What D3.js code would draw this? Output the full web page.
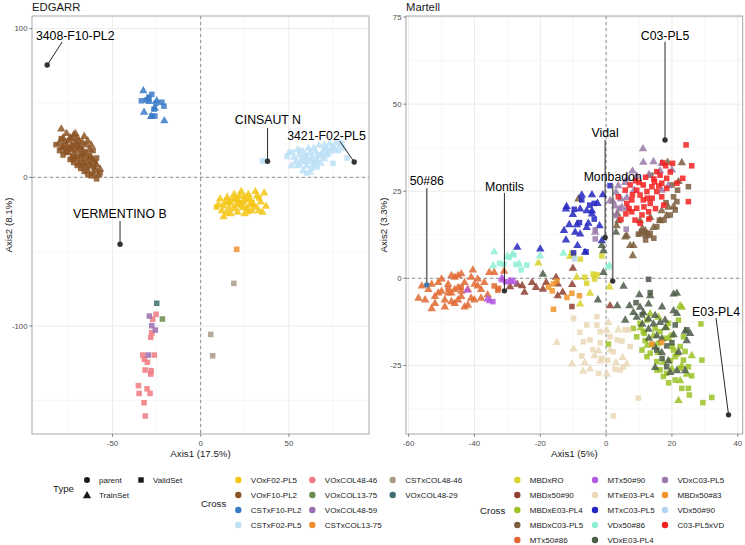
<!DOCTYPE html>
<html><head><meta charset="utf-8">
<script src="https://cdn.jsdelivr.net/npm/d3@7"></script>
<style>body{margin:0;background:#fff} text{font-family:"Liberation Sans",Arial,sans-serif}</style>
</head><body><svg id="c" width="745" height="545"></svg>
<script>
// ---------------- LEFT PANEL DATA (EDGARR) ----------------
const leftCrosses = ["VOxF02-PL5","VOxF10-PL2","CSTxF10-PL2","CSTxF02-PL5","VOxCOL48-46","VOxCOL13-75","VOxCOL48-59","CSTxCOL13-75","CSTxCOL48-46","VOxCOL48-29"];
const leftColors  = ["#F5C514","#8C5424","#3A7BC8","#BDE0F6","#F07A80","#6A8C4C","#9B6FAE","#F09030","#A99A86","#3E6E70"];

const L_VOxF02PL5_T = [[10,-18],[12,-22],[14,-16],[16,-20],[18,-14],[20,-18],[22,-12],[24,-16],[26,-20],[28,-14],[30,-18],[32,-12],[34,-16],[36,-10],[37,-19],[13,-26],[17,-24],[21,-23],[25,-24],[29,-22],[33,-22],[15,-13],[19,-11],[23,-9],[27,-11],[31,-9],[11,-14],[35,-23],[20,-14],[24,-20],[28,-18],[16,-16]];
const L_VOxF02PL5_S = [[9,-20],[13,-19],[17,-17],[21,-15],[25,-13],[29,-17],[33,-14],[19,-21],[23,-19],[27,-23],[31,-20],[15,-24],[22,-17],[26,-15]];
const L_VOxF10PL2_T = [[-79,33],[-76,30],[-72,29],[-70,27],[-66,28],[-64,25],[-62,22],[-78,27],[-75,25],[-73,22],[-71,24],[-69,21],[-67,19],[-65,17],[-63,15],[-61,12],[-59,9],[-57,6],[-60,5],[-62,8],[-64,11],[-66,13],[-68,15],[-70,18],[-72,16],[-74,20],[-76,22],[-80,24],[-77,18],[-73,14],[-69,10],[-65,7],[-61,3],[-58,2],[-63,19],[-67,24],[-71,30],[-74,27],[-78,21],[-68,12],[-66,10],[-64,5],[-75,17],[-71,13],[-67,16],[-63,9],[-69,25],[-73,19],[-62,14],[-60,7]];
const L_VOxF10PL2_S = [[-82,22],[-80,18],[-78,15],[-76,17],[-74,12],[-72,10],[-70,8],[-68,6],[-66,4],[-62,1],[-59,-1],[-57,3],[-60,10],[-63,13],[-70,14],[-75,20],[-79,26],[-68,20],[-65,22],[-61,18],[-59,13],[-71,20],[-73,26],[-77,24],[-67,8],[-64,2],[-72,12],[-66,16],[-79,20],[-70,22]];
const L_CSTxF10PL2_T = [[-32.5,58.7],[-32.1,44.2],[-20.6,38.5],[-30,53.5],[-24.9,52],[-28.1,41.4],[-29.1,51.5],[-26,47]];
const L_CSTxF10PL2_S = [[-27.7,55.8],[-30.6,52],[-25.3,49.8],[-20.8,47.9],[-26.4,45.9],[-27.6,41.2],[-26,41.2],[-29.3,53.8],[-33.6,51.5],[-22,50.5]];
const L_CSTxF02PL5_T = [[50,17],[53,14],[55,19],[57,12],[59,16],[61,20],[63,14],[65,18],[67,22],[69,17],[71,20],[73,23],[75,21],[77,24],[79,22],[81,20],[58,5],[60,8],[62,4],[64,9],[66,12],[68,10],[70,13],[56,9],[54,11],[72,16],[74,18],[76,19],[62,17],[66,15],[51.5,8.3],[59,11],[64,20],[70,22],[68,15],[60,14]];
const L_CSTxF02PL5_S = [[49,14],[52,17],[55,8],[58,13],[61,11],[63,6],[65,10],[67,15],[70,19],[73,18],[78,18],[80,23],[83,13],[57,18],[60,3],[35,11],[37,11],[75,9.4],[56,15],[63,11],[71,15],[66,7]];
const L_VOxCOL48_46_S = [[-25.3,-92.1],[-27.2,-95.5],[-27.7,-104.5],[-28.3,-107.6],[-32.8,-119.5],[-26.3,-119.5],[-31.9,-122.4],[-30.2,-124.4],[-31.5,-129.6],[-28.1,-130],[-28.3,-132.3],[-35.3,-140.1],[-34.9,-145.3],[-30.4,-142.2],[-28.7,-145.3],[-32.1,-151.6],[-31.4,-160.5]];
const L_VOxCOL13_75_S = [[-21.7,-95.3]];
const L_VOxCOL48_59_S = [[-29.1,-93.3],[-27.7,-99.8],[-25.7,-102.7],[-29.7,-119.5]];
const L_CSTxCOL13_75_S = [[20.4,-48.4]];
const L_CSTxCOL48_46_S = [[18.8,-71.3],[5.7,-105.6],[6.8,-120]];
const L_VOxCOL48_29_S = [[-24.9,-84.7]];

const leftTri = [L_VOxF02PL5_T,L_VOxF10PL2_T,L_CSTxF10PL2_T,L_CSTxF02PL5_T,[],[],[],[],[],[]];
const leftSq  = [L_VOxF02PL5_S,L_VOxF10PL2_S,L_CSTxF10PL2_S,L_CSTxF02PL5_S,L_VOxCOL48_46_S,L_VOxCOL13_75_S,L_VOxCOL48_59_S,L_CSTxCOL13_75_S,L_CSTxCOL48_46_S,L_VOxCOL48_29_S];

const leftParents = [
  {name:"3408-F10-PL2", x:-87, y:75.5, lx:-71.1, ly:95, sx:-78.5, sy:91},
  {name:"CINSAUT N", x:37.9, y:10.8, lx:38.1, ly:38.5, sx:37.9, sy:33.2},
  {name:"3421-F02-PL5", x:87, y:10.3, lx:71.3, ly:27.8, sx:78.8, sy:24.4},
  {name:"VERMENTINO B", x:-45.7, y:-45, lx:-45.8, ly:-24.9, sx:-45.7, sy:-29.4}
];
const leftXTicks = [-50,0,50];
const leftYTicks = [-100,0,100];

// ---------------- RIGHT PANEL DATA (Martell) ----------------
const rightCrosses = ["MBDxRO","MBDx50#90","MBDxE03-PL4","MBDxC03-PL5","MTx50#86","MTx50#90","MTxE03-PL4","MTxC03-PL5","VDx50#86","VDxE03-PL4","VDxC03-PL5","MBDx50#83","VDx50#90","C03-PL5xVD"];
const rightColors  = ["#D8D42C","#8E4030","#9AC224","#7B5E3C","#E06830","#B45AE0","#EAD8B6","#2424C0","#90F0D6","#4C5C48","#9A7AAA","#F09428","#B4D4F2","#F42020"];

const R_MBDxRO_T = [[-20.6,4.6],[-8.9,0.5],[-4.9,-4.1],[-7.9,-7.2],[1,-2.3],[-11,6.5]];
const R_MBDxRO_S = [[-10.4,7.2],[-9.9,6.9],[-1.3,6.4],[-3.9,1.2],[-2.8,1],[-5.9,-1.4],[-6.5,0.3],[-7.8,5.5],[-3.5,-0.2]];
const R_MBDx50_90_T = [[-29.2,-2.2],[-25.5,-1.9],[-24.8,-3.8],[-21.3,-2.4],[-19.2,-2.9],[-18.2,-1],[-15.2,0.5],[-14.7,-1.4],[-13.2,-3.8],[-14.7,-4.8],[-10.3,-1.6],[-10.1,3.1],[-27,-1.5],[-22.5,-1],[1.2,-7.7]];
const R_MBDx50_90_S = [[-10.4,-8.1]];
const R_MBDxE03PL4_T = [[22.5,-7.7],[23,-8.1],[13.4,-10],[15.9,-11],[18.4,-13.9],[14.4,-16.3],[21.5,-21.5],[23,-24.9],[20,-25.8],[22.5,-29.2],[22,-34.9],[15.9,-21.1],[17.4,-23.9],[24.5,-27.3],[10.5,-14],[12.5,-19],[19,-17],[26,-22]];
const R_MBDxE03PL4_S = [[12.4,-12],[10.3,-12.9],[8.3,-14.4],[11.3,-15.3],[11.9,-17.9],[9.3,-16.8],[10.9,-20.6],[13.4,-21.5],[15.4,-23.9],[16.4,-26.3],[18.4,-27.3],[17.4,-28.2],[21,-29.2],[23,-31.6],[25,-31.6],[25.3,-33.5],[29.1,-23.5],[28.8,-13.1],[32.1,-34.2],[29.4,-35.7],[20,-19.6],[22.5,-19.6],[23.5,-23.5],[25,-25.4],[26,-28],[22.5,-25.8],[19.5,-23.6],[21,-22.5],[15.9,-18.7],[17.9,-17.2],[20,-16.3],[16.4,-15.3],[14.9,-14.4],[18.9,-12.9],[22,-12],[23.5,-16.8],[12.4,-22.5],[15.4,-26.3],[20.5,-20.6],[11.6,-15.8],[0.7,-18.9],[24,-21],[19,-30],[14,-19]];
const R_MBDxC03PL5_T = [[23,33.4],[18.7,33.5],[3.7,16.7],[6.3,12.4],[8.3,9.6],[8.1,6.7],[10.3,12.9],[11.9,13.9],[12.9,12.4],[14.4,14.8],[16.4,16.7],[18.4,18.2],[20.5,20.8],[16.9,19.6],[18.9,20.6],[10.3,16.7],[13.4,17.7],[7.3,9.6],[5.8,12.1],[3.4,18.7],[3.2,15.3],[22,28],[11,14.5],[-8.4,23]];
const R_MBDxC03PL5_S = [[13.6,29.6],[25,26.3],[21,19.6],[19.5,18.2],[17.6,16.7],[15.4,14.8],[11.9,12.4],[10.9,13.4],[9.8,12.7],[12.4,12.9],[20.5,23.4],[21.5,22],[18.2,21.7],[21.7,25.3],[20,26.8],[16.2,16.7],[13.4,12.9],[14.5,11.5],[12,11]];
const R_MTx50_86_T = [[-57,-5.5],[-55,-6],[-54,-3],[-52,-5],[-51,-1],[-50,-3.5],[-49,-6],[-48,-1.5],[-47,-4],[-46,0.5],[-45,-2.5],[-44,-5],[-43,-1],[-42,-3],[-41,-5.5],[-40,-1.5],[-39,0],[-38,-3],[-37,-1],[-36,-4.5],[-53,-1.5],[-52,-7],[-50,0],[-49,-8],[-47,1],[-46,-7],[-45,-6],[-44,1.5],[-42,-7.5],[-43,-8],[-40,-6],[-56,-2],[-48,-4],[-46,-3],[-44,-3.5],[-41,0.5],[-39,-2],[-38,-5.5],[-35.5,1.9],[-34,1.9],[-31,2.2],[-40.5,2.6],[-45,1],[-51,-4],[-53,-8.5],[-47,-6.5]];
const R_MTx50_86_S = [[-34,-2.2],[-32.9,-3.4],[-32.7,-2.9],[-48,-3],[-44,-2.5]];
const R_MTx50_90_T = [[-31.4,-0.3],[-29.2,-0.7],[-28,-0.8],[-36,-5.7],[-42.2,-3.2],[-35.3,-6.2],[-31.7,0.2]];
const R_MTx50_90_S = [[-34.4,-6.7],[-28.8,-0.6],[-30.5,-1]];
const R_MTxE03PL4_T = [[-15,-18.2],[-9.9,-20.1],[-10.4,-24.4],[-1.8,-23.5],[-4.9,-25.8],[0.2,-14.8],[0.7,-12.5],[3.7,-14.6],[1.2,-20.4],[6.3,-24.4],[0.2,-27.3],[-2.3,-20.6],[-6.5,-24],[3,-24],[5,-22.5],[-3.5,-22],[-7,-26.5]];
const R_MTxE03PL4_S = [[-9.9,-11.5],[-5.9,-13.4],[-2.8,-13.4],[-1.8,-15.3],[-6.9,-18.2],[-4.9,-17.7],[-7.4,-22.3],[-2.3,-27.3],[3.3,-17.7],[4.8,-18],[5.8,-14.8],[6.8,-14.8],[7.3,-19.6],[2.2,-21.1],[4.3,-26.3],[5.3,-25.4],[2.7,-26.1],[-1.3,-23],[9.8,-34.4],[2.2,-39.5],[-1.8,-18.5],[-2.8,-11],[1.2,-16.8],[-4,-20.5],[-8,-15.5],[0.5,-23.5]];
const R_MTxC03PL5_T = [[-12.2,20.1],[-7.9,20.1],[-5.9,19.6],[-4.3,19.6],[-2.6,21.7],[-1,24.2],[-4.3,24.2],[-7.4,24.1],[-10.1,18.5],[-8.9,15.6],[-11.2,15.6],[-12.8,13.9],[-9.4,13.4],[-8.7,9.6],[-12.2,11.2],[-5.9,14.8],[-2,15.3],[-1.3,11],[-12,20.8],[-4.3,18.7],[-5.4,16],[-7.9,12.9],[-20,8.6],[-6.4,7.7],[-27,9.1]];
const R_MTxC03PL5_S = [[-9.7,19.8],[-7.4,22.5],[-3.6,21.5],[1.2,26.6],[-8.1,16],[-9.9,7.3],[-6.1,7.6],[-5,21],[-3.6,17]];
const R_VDx50_86_T = [[-34,7.8],[-34.3,3.8],[-28.4,7.2],[-20.1,6.7],[-13,7.4],[-26.4,4.3],[1,3.8],[-30,6.5]];
const R_VDx50_86_S = [[-32.4,4.3],[-31.1,4],[-28.1,6.7],[-27.4,4],[-25.8,2.4],[-24.1,3.8],[0.7,3.3],[-29.5,6]];
const R_VDxE03PL4_T = [[5.3,-2.1],[10.1,-4.5],[13.4,-4.8],[12.9,-7.2],[7.1,-7.7],[10.3,-8.1],[5.8,-11.8],[8.3,-9.6],[9.3,-11],[11.3,-9.6],[12.9,-11.5],[14.9,-10.5],[14.4,-12.9],[16.4,-12.5],[17.9,-11.8],[20.5,-4.3],[21.5,-4.1],[20.5,-9.1],[21.5,-9.9],[12.9,-14.4],[15.4,-16.3],[16.9,-17.2],[20.5,-16],[24,-15],[25.5,-15.6],[24.5,-17.7],[14.9,-19.6],[16.9,-21.1],[18.9,-23.5],[14.9,-25.4],[21.5,-26.3],[24,-26.3],[19.5,-26.8],[3.4,-7.7],[-0.8,1.9],[-2.5,-6],[-1.3,9.6],[3,13.4],[-19.2,1.4],[-0.8,8.1],[11,-13],[13,-17],[18,-14],[22,-21],[17,-8]];
const R_VDxE03PL4_S = [[12.9,-0.3],[9.1,-7],[13.4,-4.1],[21,-13.4],[24.5,-14.8],[18.4,-25.4],[15.4,-20.6],[18.4,-19.4],[11,-10.5],[17,-23],[20,-18.5]];
const R_VDxC03PL5_T = [[11.2,37.4],[11.3,33.5],[14.4,33.7],[16.9,33.2],[20,31.3],[16.4,31.1],[9.3,29.6],[6.3,28.7],[3.7,26.8],[3,24.9],[1.2,22.5],[2.7,21],[4.8,20.6],[6.3,20.3],[4,20.1],[6.3,23.4],[8.5,25.5],[18.9,26.8],[16.9,25.5],[4.5,23],[5.8,27.7],[2,22.3],[-3.3,13.4],[13,30],[8,31]];
const R_VDxC03PL5_S = [[-3.3,11.3],[-3.3,13.9],[6.1,14.1],[3,18]];
const R_MBDx50_83_S = [[-16,-1.6],[-15,-0.8],[-16.4,-3.6],[-11.9,-5.5],[-10.4,-4.3],[-8.1,-5],[-16,-8.9],[13.9,-18.9],[16.9,-18.4],[-17.5,-2.5]];
const R_VDx50_90_S = [[-9.6,5.6]];
const R_C03PL5xVD_S = [[24.3,38.3],[26,32.3],[23.3,28.7],[25,22],[20.2,33],[18.1,32.3],[17.2,33.2],[15.4,30.6],[16.4,29.6],[18.4,28.7],[14.7,27.7],[11.3,26.8],[9.3,25.3],[7.3,26.8],[5.8,25.3],[10.3,23.9],[12.4,24.9],[13.9,26.3],[15.4,24.9],[16.9,27.3],[11.3,22.5],[13.4,21.5],[9.3,20.1],[7.8,22.5],[3.7,23.4],[6.3,21.5],[10.9,18.2],[12.9,19.1],[8.8,16.7],[10.3,15.8],[16.9,23.4],[18.4,25.8],[7.8,19.1],[21.5,27.3],[4.5,16.9],[12,29],[14,23],[9,28],[11.5,20.5],[15,20],[6,18.5],[19.5,30.5],[13,17],[8,24],[17.5,21],[10,27.5],[12.5,23],[14.5,28.5],[7,20],[16,26.5]];

const rightTri = [R_MBDxRO_T,R_MBDx50_90_T,R_MBDxE03PL4_T,R_MBDxC03PL5_T,R_MTx50_86_T,R_MTx50_90_T,R_MTxE03PL4_T,R_MTxC03PL5_T,R_VDx50_86_T,R_VDxE03PL4_T,R_VDxC03PL5_T,[],[],[]];
const rightSq  = [R_MBDxRO_S,R_MBDx50_90_S,R_MBDxE03PL4_S,R_MBDxC03PL5_S,R_MTx50_86_S,R_MTx50_90_S,R_MTxE03PL4_S,R_MTxC03PL5_S,R_VDx50_86_S,R_VDxE03PL4_S,R_VDxC03PL5_S,R_MBDx50_83_S,R_VDx50_90_S,R_C03PL5xVD_S];

const rightParents = [
  {name:"C03-PL5", x:17.9, y:39.7, lx:17.9, ly:69.6, sx:17.9, sy:67.9},
  {name:"Vidal", x:-0.3, y:11.7, lx:-0.3, ly:41.6, sx:-0.3, sy:39.7},
  {name:"Monbadon", x:2, y:-0.8, lx:2, ly:29.2, sx:2, sy:27.1, grey:true},
  {name:"Montils", x:-30.9, y:-3.6, lx:-30.9, ly:26.3, sx:-30.9, sy:24.5},
  {name:"50#86", x:-54.5, y:-1.9, lx:-54.5, ly:27.9, sx:-54.5, sy:25.9, grey:true, blue:true},
  {name:"E03-PL4", x:37.2, y:-39.2, lx:33.4, ly:-9.6, sx:33.4, sy:-11.4}
];
const rightXTicks = [-60,-40,-20,0,20,40];
const rightYTicks = [-25,0,25,50,75];

const typeLabels = ["parent","TrainSet","ValidSet"];

// ---------------- DRAWING ----------------
const svg = d3.select("#c");
const TXT = "#1A1A1A", TICK = "#4D4D4D";

function panel(opt){
  const {x0,x1,y0,y1,xd,yd,xt,yt,xminor,yminor,title,xlab,ylab,ylabX,crosses,colors,tri,sq,parents} = opt;
  const x = d3.scaleLinear().domain(xd).range([x0,x1]);
  const y = d3.scaleLinear().domain(yd).range([y1,y0]);
  const g = svg.append("g");
  g.append("rect").attr("x",x0).attr("y",y0).attr("width",x1-x0).attr("height",y1-y0).attr("fill","#fff");
  g.selectAll(null).data(xminor).join("line").attr("x1",d=>x(d)).attr("x2",d=>x(d)).attr("y1",y0).attr("y2",y1).attr("stroke","#F2F2F2").attr("stroke-width",0.6);
  g.selectAll(null).data(yminor).join("line").attr("y1",d=>y(d)).attr("y2",d=>y(d)).attr("x1",x0).attr("x2",x1).attr("stroke","#F2F2F2").attr("stroke-width",0.6);
  g.selectAll(null).data(xt).join("line").attr("x1",d=>x(d)).attr("x2",d=>x(d)).attr("y1",y0).attr("y2",y1).attr("stroke","#EBEBEB").attr("stroke-width",1);
  g.selectAll(null).data(yt).join("line").attr("y1",d=>y(d)).attr("y2",d=>y(d)).attr("x1",x0).attr("x2",x1).attr("stroke","#EBEBEB").attr("stroke-width",1);
  g.append("line").attr("x1",x(0)).attr("x2",x(0)).attr("y1",y0).attr("y2",y1).attr("stroke","#666").attr("stroke-width",0.7).attr("stroke-dasharray","3,3");
  g.append("line").attr("y1",y(0)).attr("y2",y(0)).attr("x1",x0).attr("x2",x1).attr("stroke","#666").attr("stroke-width",0.7).attr("stroke-dasharray","3,3");
  const triSym = d3.symbol().type(d3.symbolTriangle).size(31);
  const sqSym = d3.symbol().type(d3.symbolSquare).size(31);
  crosses.forEach((c,i)=>{
    g.selectAll(null).data(tri[i]).join("path").attr("d",triSym)
      .attr("transform",d=>`translate(${x(d[0])},${y(d[1])+0.8})`).attr("fill",colors[i]).attr("fill-opacity",0.85);
    g.selectAll(null).data(sq[i]).join("path").attr("d",sqSym)
      .attr("transform",d=>`translate(${x(d[0])},${y(d[1])})`).attr("fill",colors[i]).attr("fill-opacity",0.85);
  });
  parents.forEach(p=>{
    g.append("line").attr("x1",x(p.sx)).attr("y1",y(p.sy)).attr("x2",x(p.x)).attr("y2",y(p.y))
      .attr("stroke",p.grey?"#6E6E6E":"#111").attr("stroke-width",p.grey?1.6:0.9);
    g.append("circle").attr("cx",x(p.x)).attr("cy",y(p.y)).attr("r",2.7).attr("fill",p.blue?"#3D7AA8":"#333");
    g.append("text").attr("x",x(p.lx)).attr("y",y(p.ly)).attr("text-anchor","middle").attr("dominant-baseline","central")
      .attr("font-size",12.3).attr("fill","#000").text(p.name);
  });
  g.append("rect").attr("x",x0).attr("y",y0).attr("width",x1-x0).attr("height",y1-y0).attr("fill","none").attr("stroke","#A8A8A8").attr("stroke-width",1);
  g.selectAll(null).data(xt).join("line").attr("x1",d=>x(d)).attr("x2",d=>x(d)).attr("y1",y1).attr("y2",y1+2.7).attr("stroke","#333").attr("stroke-width",0.6);
  g.selectAll(null).data(yt).join("line").attr("y1",d=>y(d)).attr("y2",d=>y(d)).attr("x1",x0).attr("x2",x0-2.7).attr("stroke","#333").attr("stroke-width",0.6);
  g.selectAll(null).data(xt).join("text").attr("x",d=>x(d)).attr("y",y1+9).attr("text-anchor","middle").attr("dominant-baseline","central")
    .attr("font-size",7.8).attr("fill",TICK).text(d=>d);
  g.selectAll(null).data(yt).join("text").attr("x",x0-4.5).attr("y",d=>y(d)).attr("text-anchor","end").attr("dominant-baseline","central")
    .attr("font-size",7.8).attr("fill",TICK).text(d=>d);
  g.append("text").attr("x",x0).attr("y",7).attr("dominant-baseline","central").attr("font-size",11.3).attr("fill",TXT).text(title);
  g.append("text").attr("x",(x0+x1)/2).attr("y",453).attr("text-anchor","middle").attr("dominant-baseline","central").attr("font-size",9.7).attr("fill",TXT).text(xlab);
  g.append("text").attr("transform",`translate(${ylabX},${(y0+y1)/2}) rotate(-90)`).attr("text-anchor","middle").attr("dominant-baseline","central").attr("font-size",9.7).attr("fill",TXT).text(ylab);
}

panel({x0:32,x1:369,y0:16,y1:434,xd:[-95.6,95.4],yd:[-172.6,108.5],xt:leftXTicks,yt:leftYTicks,
  xminor:[-75,-25,25,75],yminor:[-150,-50,50],title:"EDGARR",xlab:"Axis1 (17.5%)",ylab:"Axis2 (8.1%)",ylabX:8,
  crosses:leftCrosses,colors:leftColors,tri:leftTri,sq:leftSq,parents:leftParents});
panel({x0:406,x1:742.7,y0:16,y1:434,xd:[-60.8,41.5],yd:[-44.7,75.3],xt:rightXTicks,yt:rightYTicks,
  xminor:[-50,-30,-10,10,30],yminor:[-37.5,-12.5,12.5,37.5,62.5],title:"Martell",xlab:"Axis1 (5%)",ylab:"Axis2 (3.3%)",ylabX:383,
  crosses:rightCrosses,colors:rightColors,tri:rightTri,sq:rightSq,parents:rightParents});

// ---------------- LEGENDS ----------------
const lg = svg.append("g");
lg.append("text").attr("x",53).attr("y",488).attr("dominant-baseline","central").attr("font-size",9.7).attr("fill",TXT).text("Type");
const typePos = [[87,480],[87,495],[141,480]];
const typeSyms = [d3.symbolCircle,d3.symbolTriangle,d3.symbolSquare];
typeLabels.forEach((t,i)=>{
  lg.append("path").attr("d",d3.symbol().type(typeSyms[i]).size(i===0?28:30))
    .attr("transform",`translate(${typePos[i][0]},${typePos[i][1]+(i===1?0.8:0)})`).attr("fill","#1A1A1A");
  lg.append("text").attr("x",typePos[i][0]+12).attr("y",typePos[i][1]).attr("dominant-baseline","central").attr("font-size",8).attr("fill",TXT).text(t);
});
function crossLegend(crosses,colors,titleX,titleY,colX,rows){
  lg.append("text").attr("x",titleX).attr("y",titleY).attr("dominant-baseline","central").attr("font-size",9.7).attr("fill",TXT).text("Cross");
  crosses.forEach((c,i)=>{
    const col = Math.floor(i/rows), row = i%rows;
    const cx = colX[col], cy = 480+row*15;
    lg.append("circle").attr("cx",cx).attr("cy",cy).attr("r",3.2).attr("fill",colors[i]);
    lg.append("text").attr("x",cx+12.5).attr("y",cy).attr("dominant-baseline","central").attr("font-size",8).attr("fill",TXT).text(c);
  });
}
crossLegend(leftCrosses,leftColors,201,503,[238.3,312.3,392.7],4);
crossLegend(rightCrosses,rightColors,480,510.5,[517.3,595,665],5);
</script></body></html>
